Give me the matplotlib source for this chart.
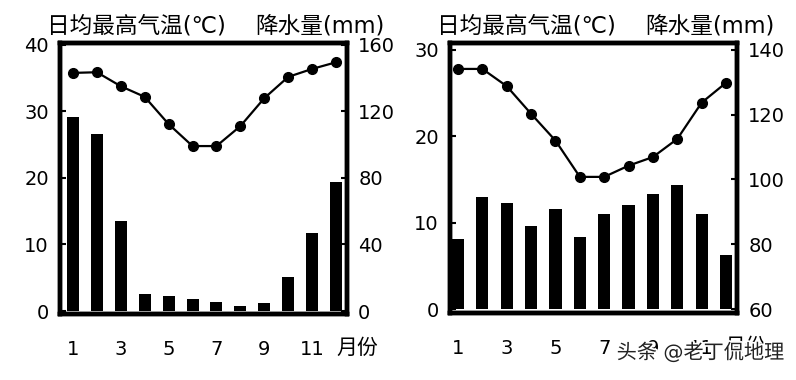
import matplotlib.pyplot as plt
import matplotlib.patheffects as pe
import numpy as np

plt.rcParams['font.family'] = ['DejaVu Sans', 'Noto Sans CJK SC']

months = np.arange(1, 13)
month_labels = ['1', '3', '5', '7', '9', '11']

# left station
temp_a = [35.8, 35.9, 33.8, 32.2, 28.1, 24.8, 24.8, 27.8, 32.0, 35.2, 36.4, 37.4]
rain_a = [116.7, 106.5, 54, 10.2, 9.2, 7.2, 5.4, 3.2, 4.8, 20.5, 47, 77.6]

# right station
temp_b = [27.8, 27.8, 25.8, 22.6, 19.5, 15.3, 15.3, 16.6, 17.6, 19.7, 23.9, 26.2]
rain_b = [81.6, 94.6, 92.7, 85.6, 90.9, 82.2, 89.3, 92.1, 95.5, 98.3, 89.3, 76.7]


def draw_panel(fig, rect, temp, rain, t_lim, t_ticks, p_base, p_scale, p_ticks, xlim, unit_x):
    ax = fig.add_axes(rect)
    ax2 = ax.twinx()

    # precipitation bars on the right axis
    ax2.bar(months, np.array(rain) - p_base, bottom=p_base, width=0.5, color='black', zorder=2)
    ax2.set_ylim(p_base + t_lim[0] * p_scale, p_base + t_lim[1] * p_scale)
    ax2.set_yticks(p_ticks)

    # temperature line drawn above the bars
    ax.set_zorder(ax2.get_zorder() + 1)
    ax.patch.set_visible(False)
    ax.plot(months, temp, color='black', lw=1.6, marker='o', ms=7, zorder=3)
    ax.set_ylim(*t_lim)
    ax.set_yticks(t_ticks)
    ax.set_xlim(*xlim)
    ax.set_xticks([1, 3, 5, 7, 9, 11])
    ax.set_xticklabels(month_labels)

    for a in (ax, ax2):
        for s in a.spines.values():
            s.set_linewidth(3.2)
        a.tick_params(axis='y', direction='in', length=4, width=1.5, labelsize=14, pad=8)
    ax.tick_params(axis='x', length=0, labelsize=14, pad=19)
    ax.text(unit_x, -0.125, '月份', transform=ax.get_xaxis_transform(), ha='center',
            va='center', fontsize=15)
    ax.text(-0.045, 1.02, '日均最高气温(℃)', transform=ax.transAxes, ha='left',
            va='bottom', fontsize=16.3)
    ax.text(1.13, 1.02, '降水量(mm)', transform=ax.transAxes, ha='right',
            va='bottom', fontsize=16.3)
    return ax


fig = plt.figure(figsize=(7.96, 3.80), dpi=100)

draw_panel(fig, [0.0754, 0.1737, 0.3606, 0.7132], temp_a, rain_a,
           (-0.45, 40.3), [0, 10, 20, 30, 40], 0, 4, [0, 40, 80, 120, 160],
           (0.46, 12.46), 12.9)
draw_panel(fig, [0.5653, 0.1763, 0.3606, 0.7105], temp_b, rain_b,
           (-0.46, 30.8), [0, 10, 20, 30], 60, 8 / 3, [60, 80, 100, 120, 140],
           (0.67, 12.45), 12.8)

# watermark
fig.text(0.985, 0.072, '头条 @老丁侃地理', ha='right', va='center', fontsize=14.5,
         color='#222222', path_effects=[pe.withStroke(linewidth=2.5, foreground='white')])

fig.savefig('out.png', dpi=100)
